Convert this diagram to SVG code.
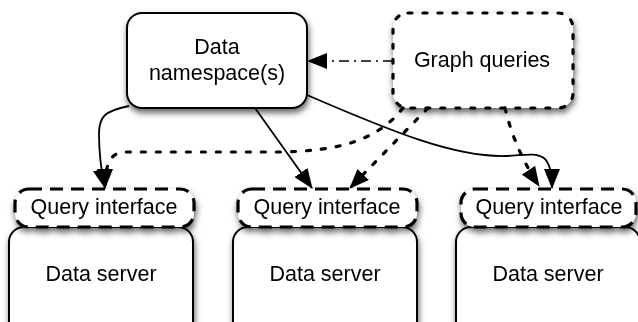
<svg xmlns="http://www.w3.org/2000/svg" width="638" height="322" viewBox="0 0 638 322">
  <style>
    .box { fill: #fff; stroke: #000; stroke-width: 2; }
    .dotbox { fill: #fff; stroke: #000; stroke-width: 3.2; stroke-dasharray: 4 11; stroke-linecap: round; }
    .dashbox { fill: #fff; stroke: #000; stroke-width: 3.2; stroke-dasharray: 13 8; }
    .label { font-family: "Liberation Sans", Arial, Helvetica, sans-serif; font-size: 21.5px; fill: #000; text-anchor: middle; }
    .solid { fill: none; stroke: #000; stroke-width: 1.8; }
    .dotted { fill: none; stroke: #000; stroke-width: 3.2; stroke-dasharray: 4 11; stroke-linecap: round; }
    .dashdot { fill: none; stroke: #000; stroke-width: 1.6; stroke-dasharray: 10 5 2 5; }
  </style>
  <defs>
    <filter id="shadow" x="-15%" y="-15%" width="135%" height="150%">
      <feDropShadow dx="1" dy="4" stdDeviation="3" flood-color="#000" flood-opacity="0.6"/>
    </filter>
    <marker id="arrow" markerUnits="userSpaceOnUse" viewBox="0 0 20 16" markerWidth="20" markerHeight="16" refX="19" refY="8" orient="auto">
      <path d="M0,0 L20,8 L0,16 Z" fill="#000" stroke="none"/>
    </marker>
  </defs>

  <!-- data servers (bottom row) -->
  <g id="server1" filter="url(#shadow)">
    <rect class="box" x="9" y="227" width="184" height="120" rx="15"/>
    <text class="label" x="101" y="281">Data server</text>
  </g>
  <g id="server2" filter="url(#shadow)">
    <rect class="box" x="233" y="227" width="184" height="120" rx="15"/>
    <text class="label" x="325" y="281">Data server</text>
  </g>
  <g id="server3" filter="url(#shadow)">
    <rect class="box" x="456" y="227" width="184" height="120" rx="15"/>
    <text class="label" x="548" y="281">Data server</text>
  </g>

  <!-- query interfaces sitting on top of each server -->
  <g id="qi1" filter="url(#shadow)">
    <rect class="dashbox" x="15" y="189" width="179" height="38" rx="14"/>
    <text class="label" x="104" y="214">Query interface</text>
  </g>
  <g id="qi2" filter="url(#shadow)">
    <rect class="dashbox" x="238" y="189" width="179" height="38" rx="14"/>
    <text class="label" x="327" y="214">Query interface</text>
  </g>
  <g id="qi3" filter="url(#shadow)">
    <rect class="dashbox" x="461" y="189" width="175" height="38" rx="14"/>
    <text class="label" x="549" y="214">Query interface</text>
  </g>

  <!-- top row -->
  <g id="namespace" filter="url(#shadow)">
    <rect class="box" x="127" y="13" width="180" height="95" rx="15"/>
    <text class="label" x="217" y="54">Data</text>
    <text class="label" x="217" y="80">namespace(s)</text>
  </g>
  <g id="graph-queries" filter="url(#shadow)">
    <rect class="dotbox" x="393" y="13" width="180" height="95" rx="15"/>
    <text class="label" x="482" y="67">Graph queries</text>
  </g>

  <!-- connectors -->
  <g id="connectors">
    <path class="dashdot" d="M393,61 L308,61" marker-end="url(#arrow)"/>
    <path class="solid" d="M129,106 C104,111 99,117 99,134 C99,152 101,170 105,188" marker-end="url(#arrow)"/>
    <path class="solid" d="M255,108 L312,188" marker-end="url(#arrow)"/>
    <path class="solid" d="M307,95 C395,133 455,157 505,156 C535,155 552,146 552,188" marker-end="url(#arrow)"/>
    <path class="dotted" d="M403,108 C378,140 340,151 280,152 L125,152 C110,152 105,165 105,188" marker-end="url(#arrow)"/>
    <path class="dotted" d="M428,108 L350,188" marker-end="url(#arrow)"/>
    <path class="dotted" d="M505,108 Q515,150 539,186" marker-end="url(#arrow)"/>
  </g>
</svg>
